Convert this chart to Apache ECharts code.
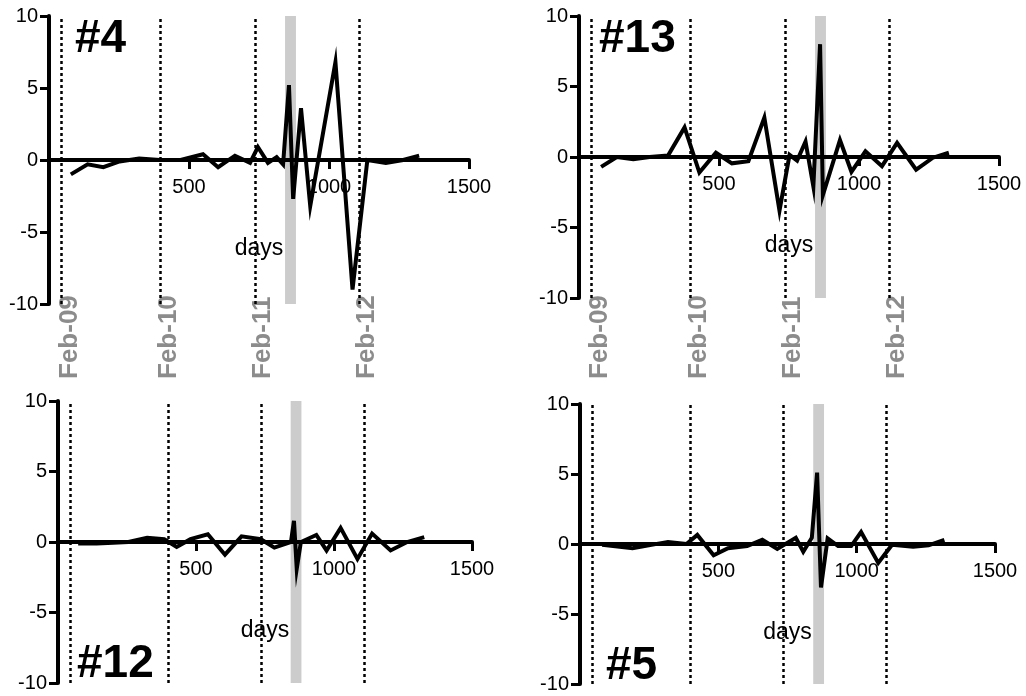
<!DOCTYPE html>
<html>
<head>
<meta charset="utf-8">
<script src="https://cdn.jsdelivr.net/npm/echarts@6/dist/echarts.min.js"></script>
<style>
  html, body { margin: 0; padding: 0; background: #fff; }
  #chart { width: 1026px; height: 696px; }
</style>
</head>
<body>
<div id="chart"></div>
<script>
// Panel names, in drawing order: top-left, top-right, bottom-left, bottom-right
const panelNames = ['#4', '#13', '#12', '#5'];

// Sample days and values for each panel
const days4 = [78, 138, 194, 252, 322, 396, 470, 550, 604, 664, 718, 746, 782, 813, 836, 857, 872, 900, 933, 1023, 1084, 1137, 1203, 1265, 1322];
const vals4 = [-1.0, -0.3, -0.5, -0.1, 0.1, 0.0, 0.0, 0.4, -0.5, 0.3, -0.2, 0.9, -0.2, 0.2, -0.3, 5.2, -2.7, 3.6, -3.2, 6.8, -9.0, 0.0, -0.2, 0.0, 0.3];

const days13 = [79, 135, 194, 252, 318, 377, 430, 489, 546, 605, 662, 716, 752, 779, 809, 837, 861, 871, 932, 973, 1023, 1082, 1136, 1204, 1264, 1321];
const vals13 = [-0.7, 0.0, -0.15, 0.0, 0.1, 2.1, -1.1, 0.3, -0.45, -0.3, 2.8, -3.8, 0.15, -0.25, 1.1, -2.1, 8.0, -2.7, 1.2, -1.05, 0.4, -0.65, 1.0, -0.9, -0.05, 0.3];

const days12 = [73, 140, 200, 255, 323, 385, 430, 480, 543, 605, 665, 735, 784, 844, 855, 865, 880, 936, 973, 1024, 1085, 1138, 1205, 1265, 1327];
const vals12 = [-0.1, -0.1, -0.05, 0.0, 0.3, 0.2, -0.35, 0.2, 0.55, -0.9, 0.4, 0.2, -0.4, 0.0, 1.5, -1.9, 0.0, 0.5, -0.6, 1.0, -1.2, 0.6, -0.6, 0.0, 0.35];

const days5 = [80, 190, 318, 385, 424, 483, 535, 604, 659, 713, 780, 807, 838, 857, 871, 895, 933, 980, 1016, 1078, 1128, 1204, 1260, 1317];
const vals5 = [-0.05, -0.3, 0.15, 0.0, 0.65, -0.8, -0.3, -0.15, 0.3, -0.35, 0.45, -0.55, 0.45, 5.1, -3.1, 0.4, -0.15, -0.15, 0.85, -1.35, -0.05, -0.2, -0.1, 0.3];

// Year boundaries (days) and their labels
const yearMarks = [45, 398, 736, 1108];
const yearLabels = ['Feb-09', 'Feb-10', 'Feb-11', 'Feb-12'];

// Highlighted event window (days)
const eventBand = [843, 882];

// Axis settings
const xMin = 0, xMax = 1500, xStep = 500;
const yMin = -10, yMax = 10, yStep = 5;
const xName = 'days';

const panelDays = [days4, days13, days12, days5];
const panelVals = [vals4, vals13, vals12, vals5];

const FONT = '"Liberation Sans", Arial, Helvetica, sans-serif';

const grids = [
  { left: 49,  top: 16,  width: 420, height: 288 },
  { left: 579, top: 16,  width: 420, height: 282 },
  { left: 58,  top: 401, width: 414, height: 282 },
  { left: 580, top: 404, width: 415, height: 280 }
];

const titlePos = [
  { left: 75,  top: 16 },
  { left: 599, top: 16 },
  { left: 77,  top: 641 },
  { left: 606, top: 643 }
];

const chart = echarts.init(document.getElementById('chart'), null, { renderer: 'canvas' });

const option = {
  animation: false,
  backgroundColor: '#fff',
  title: panelNames.map((name, i) => ({
    text: name,
    left: titlePos[i].left,
    top: titlePos[i].top,
    padding: 0,
    textStyle: { fontFamily: FONT, fontWeight: 'bold', fontSize: 46, color: '#000' }
  })),
  grid: grids.map(g => Object.assign({ containLabel: false }, g)),
  // The horizontal axis sits on y = 0, the middle of the symmetric range
  xAxis: grids.map((g, i) => ({
    type: 'value',
    gridIndex: i,
    position: 'bottom',
    offset: -g.height * (0 - yMin) / (yMax - yMin),
    min: xMin,
    max: xMax,
    interval: xStep,
    z: 3,
    name: xName,
    nameLocation: 'middle',
    nameGap: 77,
    nameTextStyle: { fontFamily: FONT, fontSize: 23, color: '#000' },
    axisLine: { onZero: false, lineStyle: { color: '#000', width: 4 } },
    axisTick: { show: true, length: 9, lineStyle: { color: '#000', width: 3 } },
    axisLabel: {
      fontFamily: FONT, fontSize: 20, color: '#000', margin: 17,
      formatter: v => (v === 0 ? '' : String(v))
    },
    splitLine: { show: false }
  })),
  yAxis: grids.map((g, i) => ({
    type: 'value',
    gridIndex: i,
    min: yMin,
    max: yMax,
    interval: yStep,
    z: 3,
    axisLine: { onZero: false, lineStyle: { color: '#000', width: 4 } },
    axisTick: { show: true, length: 9, lineStyle: { color: '#000', width: 3 } },
    axisLabel: { fontFamily: FONT, fontSize: 20, color: '#000', margin: 11 },
    splitLine: { show: false }
  })),
  series: panelVals.map((vals, i) => ({
    type: 'line',
    xAxisIndex: i,
    yAxisIndex: i,
    data: panelDays[i].map((d, k) => [d, vals[k]]),
    showSymbol: false,
    symbol: 'none',
    smooth: false,
    lineStyle: { color: '#000', width: 4, join: 'miter' },
    z: 2,
    markArea: {
      silent: true,
      itemStyle: { color: '#cccccc' },
      data: [[{ xAxis: eventBand[0], yAxis: yMin }, { xAxis: eventBand[1], yAxis: yMax }]]
    },
    markLine: {
      silent: true,
      symbol: 'none',
      label: { show: false },
      lineStyle: { color: '#000', type: [3, 3], width: 2.5 },
      data: yearMarks.map(d => [{ coord: [d, yMin] }, { coord: [d, yMax] }])
    }
  }))
};

chart.setOption(option);

// Rotated year labels under the two upper panels
const labelBottom = 379;
const yearTexts = [];
[0, 1].forEach(gi => {
  yearMarks.forEach((d, k) => {
    const p = chart.convertToPixel({ gridIndex: gi }, [d, yMin]);
    yearTexts.push({
      type: 'text',
      x: p[0] + 8,
      y: labelBottom,
      rotation: Math.PI / 2,
      silent: true,
      style: {
        text: yearLabels[k],
        font: 'bold 26px ' + FONT,
        fill: '#8c8c8c',
        align: 'left',
        verticalAlign: 'middle'
      }
    });
  });
});
chart.setOption({ graphic: yearTexts });
</script>
</body>
</html>
